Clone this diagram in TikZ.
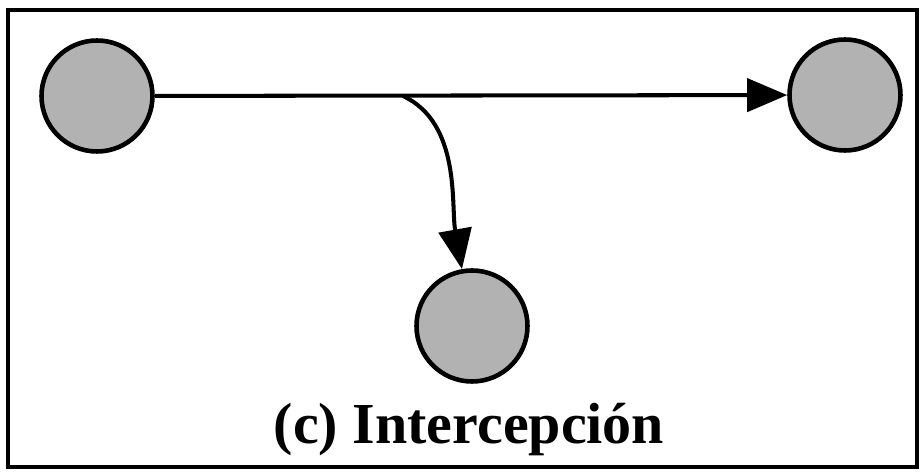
\documentclass[tikz,border=0pt]{standalone}
\usepackage{fontspec}
\setmainfont{Liberation Serif}
\usetikzlibrary{arrows.meta,positioning}

\begin{document}
\begin{tikzpicture}[
  party/.style={circle, draw, line width=2.6pt, fill=black!30,
                minimum size=2.22cm, inner sep=0pt},
  arr/.style={-{Triangle[length=0.8cm,width=0.66cm]}, line width=2.3pt},
  frame/.style={draw, line width=2pt},
]
\useasboundingbox (0,0) rectangle (18.44,9.44);

%% ---- frame ----
\node[frame, minimum width=18.18cm, minimum height=9.14cm,
      inner sep=0pt] (box) at (9.25,4.67) {};

%% ---- parties ----
\node[party] (src) at (1.94,7.52) {};
\node[party] (dst) at (16.9,7.54) {};
\node[party] (eve) at (9.44,2.92) {};

%% ---- branching point ----
\coordinate (tap) at (8.06,7.52);

%% ---- caption ----
\node[font=\bfseries\fontsize{33}{36}\selectfont, anchor=base]
  (cap) at (9.38,0.56) {(c) Intercepción};

%% ---- arrows ----
\draw[arr] (src) -- (dst);
\draw[arr] (tap) to[out=-25,in=100,looseness=0.9] (eve);
\end{tikzpicture}
\end{document}
